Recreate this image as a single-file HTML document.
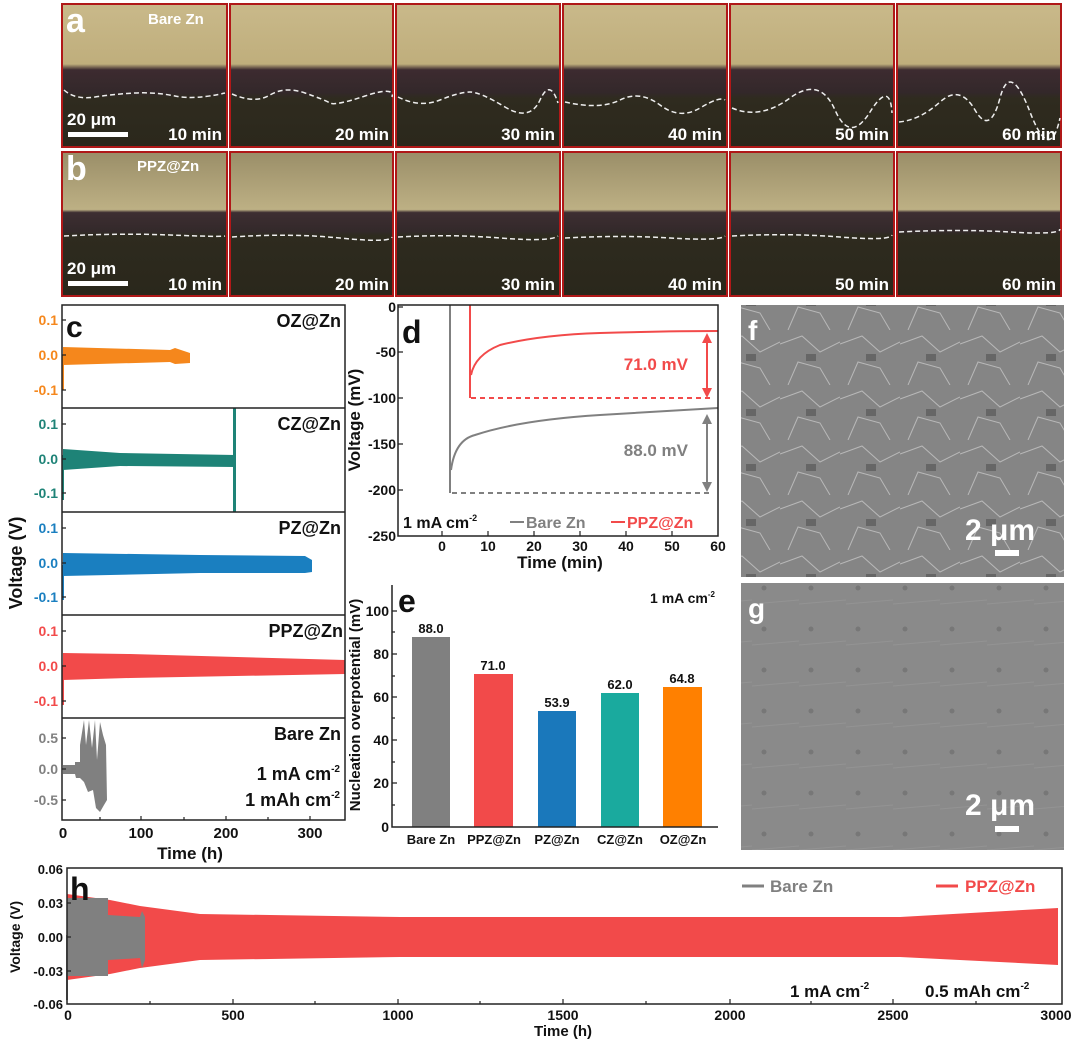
<!DOCTYPE html>
<html><head><meta charset="utf-8"><style>
body{margin:0;background:#fff;}
svg{display:block;font-family:"Liberation Sans",Arial,sans-serif;font-weight:bold;}
</style></head><body>
<svg width="1080" height="1048" viewBox="0 0 1080 1048" xmlns="http://www.w3.org/2000/svg">
<defs>
<linearGradient id="ga" x1="0" y1="0" x2="0" y2="1">
<stop offset="0" stop-color="#c9b98a"/><stop offset="0.42" stop-color="#bfae7c"/><stop offset="0.46" stop-color="#3d2b30"/><stop offset="0.62" stop-color="#33282a"/><stop offset="0.66" stop-color="#2f2b1f"/><stop offset="1" stop-color="#2b281c"/>
</linearGradient>
<linearGradient id="gb" x1="0" y1="0" x2="0" y2="1">
<stop offset="0" stop-color="#9a8e68"/><stop offset="0.4" stop-color="#bdb084"/><stop offset="0.42" stop-color="#3e2e32"/><stop offset="0.55" stop-color="#33292a"/><stop offset="0.58" stop-color="#2e2b1f"/><stop offset="1" stop-color="#2a271b"/>
</linearGradient>
<pattern id="sem" width="60" height="55" patternUnits="userSpaceOnUse">
<rect width="60" height="55" fill="#858585"/><path d="M0 14 L22 6 L40 22 L60 12 M8 55 L18 32 L40 38 L50 55" stroke="#b8b8b8" stroke-width="1" fill="none"/><rect x="26" y="24" width="10" height="7" fill="#666"/>
</pattern>
<pattern id="sem2" width="47" height="41" patternUnits="userSpaceOnUse">
<rect width="47" height="41" fill="#8a8a8a"/><circle cx="12" cy="14" r="2.5" fill="#777"/><path d="M0 30 L47 26" stroke="#939393" stroke-width="1"/>
</pattern>
</defs>

<g id="tiles">
<g fill="url(#ga)" stroke="#b01818" stroke-width="2">
<rect x="62" y="4" width="165" height="143"/><rect x="230" y="4" width="163" height="143"/><rect x="396" y="4" width="164" height="143"/><rect x="563" y="4" width="164" height="143"/><rect x="730" y="4" width="164" height="143"/><rect x="897" y="4" width="164" height="143"/>
</g>
<g fill="url(#gb)" stroke="#b01818" stroke-width="2">
<rect x="62" y="152" width="165" height="144"/><rect x="230" y="152" width="163" height="144"/><rect x="396" y="152" width="164" height="144"/><rect x="563" y="152" width="164" height="144"/><rect x="730" y="152" width="164" height="144"/><rect x="897" y="152" width="164" height="144"/>
</g>
<g fill="none" stroke="#eee" stroke-width="1.5" stroke-dasharray="5,3">
<path d="M64 90 Q75 100 95 97 T135 93 T175 96 T225 93"/>
<path d="M232 94 Q255 104 270 95 T305 93 T330 103 T365 96 T392 97"/>
<path d="M398 97 Q420 108 440 100 T470 92 T505 107 T540 100 T558 103"/>
<path d="M565 102 Q600 110 620 100 T660 105 T700 108 T725 100"/>
<path d="M732 108 Q760 120 790 98 T835 110 T870 112 T892 113"/>
<path d="M899 122 Q920 120 940 102 T975 110 T1000 98 T1030 112 T1060 118"/>
<path d="M64 236 Q120 233 170 235 T225 236"/><path d="M232 237 Q290 233 340 238 T392 237"/><path d="M398 237 Q450 234 500 238 T558 236"/><path d="M565 238 Q620 235 670 238 T725 236"/><path d="M732 236 Q790 233 840 237 T892 235"/><path d="M899 232 Q960 229 1010 232 T1060 229"/>
</g>
<g fill="#fff" font-size="17">
<text x="66" y="32" font-size="34">a</text><text x="148" y="24" font-size="15">Bare Zn</text>
<text x="66" y="180" font-size="34">b</text><text x="137" y="171" font-size="15">PPZ@Zn</text>
<text x="67" y="125">20 μm</text><rect x="68" y="132" width="60" height="5"/>
<text x="67" y="274">20 μm</text><rect x="68" y="281" width="60" height="5"/>
<g text-anchor="end">
<text x="222" y="140">10 min</text><text x="389" y="140">20 min</text><text x="555" y="140">30 min</text><text x="722" y="140">40 min</text><text x="889" y="140">50 min</text><text x="1056" y="140">60 min</text>
<text x="222" y="290">10 min</text><text x="389" y="290">20 min</text><text x="555" y="290">30 min</text><text x="722" y="290">40 min</text><text x="889" y="290">50 min</text><text x="1056" y="290">60 min</text>
</g></g>
</g>

<!-- Panel c -->
<g>
<polygon fill="#f5871c" points="63,347 170,350 175,348 190,353 190,363 175,364 170,362 63,365"/>
<polygon fill="#f5871c" points="62,355 64,355 64,390 62,390"/>
<polygon fill="#1e8377" points="63,449 120,453 235,455 235,467 120,466 63,470"/>
<rect x="233" y="408" width="3" height="104" fill="#1e8377"/>
<rect x="62" y="455" width="2" height="45" fill="#1e8377"/>
<polygon fill="#1a7fc0" points="63,553 200,555 305,556 312,560 312,572 305,573 200,573 63,576"/>
<rect x="62" y="565" width="2" height="35" fill="#1a7fc0"/>
<polygon fill="#f24a4a" points="63,653 130,654 345,660 345,674 130,678 63,680"/>
<rect x="62" y="665" width="2" height="40" fill="#f24a4a"/>
<path fill="#808080" d="M63 765 L75 765 L75 762 L80 762 L80 745 L84 720 L86 745 L89 720 L92 748 L95 720 L97 760 L100 722 L103 735 L106 745 L107 800 L104 805 L100 812 L96 808 L93 790 L88 792 L84 782 L80 778 L76 778 L75 774 L63 774 Z"/>
<g fill="none" stroke="#222" stroke-width="1.5">
<rect x="62" y="305" width="283" height="515"/>
<path d="M62 408 H345 M62 512 H345 M62 615 H345 M62 718 H345"/>
</g>
<g stroke="#222" stroke-width="1.2">
<path d="M62 320h4M62 355h4M62 390h4M62 424h4M62 459h4M62 493h4M62 528h4M62 563h4M62 597h4M62 631h4M62 666h4M62 701h4M62 738h4M62 769h4M62 800h4"/>
<path d="M141 820v-4M226 820v-4M310 820v-4M100 820v-3M184 820v-3M268 820v-3"/>
</g>
<g font-size="14" text-anchor="end">
<g fill="#f5871c"><text x="58" y="325">0.1</text><text x="58" y="360">0.0</text><text x="58" y="395">-0.1</text></g>
<g fill="#1e8377"><text x="58" y="429">0.1</text><text x="58" y="464">0.0</text><text x="58" y="498">-0.1</text></g>
<g fill="#1a7fc0"><text x="58" y="533">0.1</text><text x="58" y="568">0.0</text><text x="58" y="602">-0.1</text></g>
<g fill="#f24a4a"><text x="58" y="636">0.1</text><text x="58" y="671">0.0</text><text x="58" y="706">-0.1</text></g>
<g fill="#808080"><text x="58" y="743">0.5</text><text x="58" y="774">0.0</text><text x="58" y="805">-0.5</text></g>
</g>
<g font-size="18" text-anchor="end" fill="#111">
<text x="341" y="327">OZ@Zn</text><text x="341" y="430">CZ@Zn</text><text x="341" y="534">PZ@Zn</text><text x="343" y="637">PPZ@Zn</text><text x="341" y="740">Bare Zn</text>
<text x="340" y="780">1 mA cm<tspan font-size="10" dy="-8">-2</tspan></text>
<text x="340" y="806">1 mAh cm<tspan font-size="10" dy="-8">-2</tspan></text>
</g>
<text x="66" y="337" font-size="30" fill="#111">c</text>
<g font-size="15" text-anchor="middle" fill="#111"><text x="63" y="838">0</text><text x="141" y="838">100</text><text x="226" y="838">200</text><text x="310" y="838">300</text></g>
<text x="190" y="859" font-size="17" text-anchor="middle" fill="#111">Time (h)</text>
<text transform="translate(22,563) rotate(-90)" font-size="18" text-anchor="middle" fill="#111">Voltage (V)</text>
</g>

<!-- Panel d -->
<g>
<g fill="none" stroke-width="2">
<path d="M450 305 V493" stroke="#808080"/>
<path d="M451 470 Q455 440 475 435 Q520 420 600 415 Q680 410 718 408" stroke="#808080"/>
<path d="M452 493 H712" stroke="#808080" stroke-dasharray="5,4"/>
<path d="M470 305 V398" stroke="#f24a4a"/>
<path d="M471 375 Q475 355 500 345 Q540 335 600 333 Q670 331 718 331" stroke="#f24a4a"/>
<path d="M471 398 H712" stroke="#f24a4a" stroke-dasharray="5,4"/>
<path d="M707 337 V393" stroke="#f24a4a"/><path d="M707 418 V488" stroke="#808080"/>
</g>
<polygon points="707,333 702,343 712,343" fill="#f24a4a"/><polygon points="707,398 702,388 712,388" fill="#f24a4a"/>
<polygon points="707,414 702,424 712,424" fill="#808080"/><polygon points="707,492 702,482 712,482" fill="#808080"/>
<rect x="398" y="305" width="320" height="231" fill="none" stroke="#222" stroke-width="1.5"/>
<g stroke="#222" stroke-width="1.2"><path d="M398 307h5M398 352h5M398 398h5M398 444h5M398 490h5M442 536v-5M488 536v-5M534 536v-5M580 536v-5M626 536v-5M672 536v-5"/></g>
<g font-size="14" text-anchor="end" fill="#111"><text x="396" y="312">0</text><text x="396" y="357">-50</text><text x="396" y="403">-100</text><text x="396" y="449">-150</text><text x="396" y="495">-200</text><text x="396" y="541">-250</text></g>
<g font-size="14" text-anchor="middle" fill="#111"><text x="442" y="551">0</text><text x="488" y="551">10</text><text x="534" y="551">20</text><text x="580" y="551">30</text><text x="626" y="551">40</text><text x="672" y="551">50</text><text x="718" y="551">60</text></g>
<text x="560" y="568" font-size="17" text-anchor="middle" fill="#111">Time (min)</text>
<text transform="translate(360,420) rotate(-90)" font-size="17" text-anchor="middle" fill="#111">Voltage (mV)</text>
<text x="402" y="343" font-size="32" fill="#111">d</text>
<text x="688" y="370" font-size="17" text-anchor="end" fill="#f24a4a">71.0 mV</text>
<text x="688" y="456" font-size="17" text-anchor="end" fill="#808080">88.0 mV</text>
<text x="403" y="528" font-size="16" fill="#111">1 mA cm<tspan font-size="9" dy="-7">-2</tspan></text>
<path d="M510 522h14" stroke="#808080" stroke-width="2"/><text x="526" y="528" font-size="16" fill="#808080">Bare Zn</text>
<path d="M611 522h14" stroke="#f24a4a" stroke-width="2"/><text x="627" y="528" font-size="16" fill="#f24a4a">PPZ@Zn</text>
</g>

<!-- Panel e -->
<g>
<rect x="412" y="637" width="38" height="190" fill="#808080"/>
<rect x="474" y="674" width="39" height="153" fill="#f24a4a"/>
<rect x="538" y="711" width="38" height="116" fill="#1a78bb"/>
<rect x="601" y="693" width="38" height="134" fill="#1aaa9e"/>
<rect x="663" y="687" width="39" height="140" fill="#ff8000"/>
<g font-size="13" text-anchor="middle" fill="#111"><text x="431" y="633">88.0</text><text x="493" y="670">71.0</text><text x="557" y="707">53.9</text><text x="620" y="689">62.0</text><text x="682" y="683">64.8</text></g>
<path d="M392 585 V827 H718" fill="none" stroke="#222" stroke-width="1.5"/>
<g stroke="#222" stroke-width="1.2"><path d="M392 611h5M392 654h5M392 697h5M392 740h5M392 783h5M392 632h3M392 676h3M392 718h3M392 762h3M392 805h3"/></g>
<g font-size="14" text-anchor="end" fill="#111"><text x="389" y="616">100</text><text x="389" y="659">80</text><text x="389" y="702">60</text><text x="389" y="745">40</text><text x="389" y="788">20</text><text x="389" y="832">0</text></g>
<g font-size="13" text-anchor="middle" fill="#111"><text x="431" y="844">Bare Zn</text><text x="494" y="844">PPZ@Zn</text><text x="557" y="844">PZ@Zn</text><text x="620" y="844">CZ@Zn</text><text x="683" y="844">OZ@Zn</text></g>
<text transform="translate(360,705) rotate(-90)" font-size="15" text-anchor="middle" fill="#111">Nucleation overpotential (mV)</text>
<text x="398" y="612" font-size="32" fill="#111">e</text>
<text x="715" y="603" font-size="14" text-anchor="end" fill="#111">1 mA cm<tspan font-size="8" dy="-6">-2</tspan></text>
</g>

<!-- SEM f, g -->
<rect x="741" y="305" width="323" height="272" fill="url(#sem)"/>
<rect x="741" y="583" width="323" height="267" fill="url(#sem2)"/>
<g fill="#fff"><text x="748" y="340" font-size="28">f</text><text x="748" y="618" font-size="28">g</text>
<text x="965" y="540" font-size="30">2 μm</text><rect x="995" y="550" width="24" height="6"/>
<text x="965" y="815" font-size="30">2 μm</text><rect x="995" y="826" width="24" height="6"/></g>

<!-- Panel h -->
<g>
<polygon fill="#f24a4a" points="67,894 110,900 140,906 200,914 400,917 900,917 1058,908 1058,965 900,957 400,957 200,960 140,968 110,974 67,980"/>
<polygon fill="#808080" points="67,898 108,898 108,976 67,976"/>
<polygon fill="#808080" points="108,915 140,917 142,911 145,917 145,960 142,968 140,958 108,960"/>
<rect x="66" y="935" width="2" height="65" fill="#808080"/>
<rect x="67" y="868" width="995" height="136" fill="none" stroke="#222" stroke-width="1.5"/>
<g stroke="#222" stroke-width="1.2"><path d="M67 903h4M67 937h4M67 971h4M233 1004v-5M398 1004v-5M563 1004v-5M730 1004v-5M893 1004v-5M150 1004v-3M315 1004v-3M480 1004v-3M646 1004v-3M811 1004v-3M976 1004v-3"/></g>
<g font-size="13" text-anchor="end" fill="#111"><text x="63" y="874">0.06</text><text x="63" y="908">0.03</text><text x="63" y="942">0.00</text><text x="63" y="976">-0.03</text><text x="63" y="1009">-0.06</text></g>
<g font-size="14" text-anchor="middle" fill="#111"><text x="68" y="1020">0</text><text x="233" y="1020">500</text><text x="398" y="1020">1000</text><text x="563" y="1020">1500</text><text x="730" y="1020">2000</text><text x="893" y="1020">2500</text><text x="1056" y="1020">3000</text></g>
<text x="563" y="1036" font-size="15" text-anchor="middle" fill="#111">Time (h)</text>
<text transform="translate(20,937) rotate(-90)" font-size="14" text-anchor="middle" fill="#111">Voltage (V)</text>
<text x="70" y="900" font-size="32" fill="#111">h</text>
<path d="M742 886h22" stroke="#808080" stroke-width="3"/><text x="770" y="892" font-size="17" fill="#808080">Bare Zn</text>
<path d="M936 886h22" stroke="#f24a4a" stroke-width="3"/><text x="965" y="892" font-size="17" fill="#f24a4a">PPZ@Zn</text>
<text x="790" y="997" font-size="17" fill="#111">1 mA cm<tspan font-size="10" dy="-8">-2</tspan></text>
<text x="925" y="997" font-size="17" fill="#111">0.5 mAh cm<tspan font-size="10" dy="-8">-2</tspan></text>
</g>
</svg>
</body></html>
